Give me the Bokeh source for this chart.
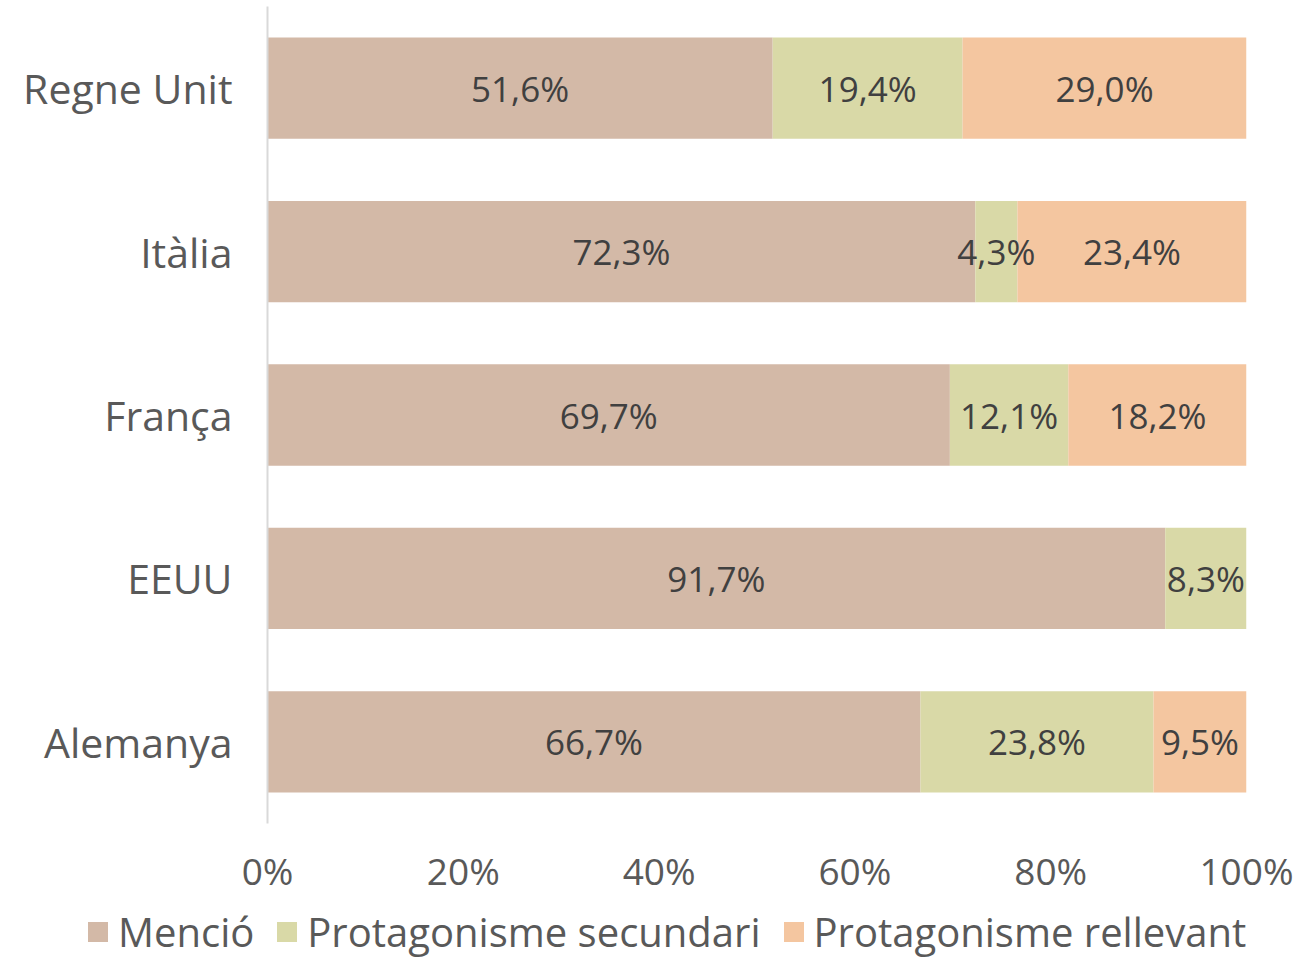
from bokeh.plotting import figure
from bokeh.models import FactorRange, Range1d, Legend, LegendItem, FixedTicker, ColumnDataSource
from bokeh.core.properties import value
from bokeh.embed import file_html
from bokeh.resources import INLINE

countries = ["Regne Unit", "Itàlia", "França", "EEUU", "Alemanya"]
mencio = [51.6, 72.3, 69.7, 91.7, 66.7]
secundari = [19.4, 4.3, 12.1, 8.3, 23.8]
rellevant = [29.0, 23.4, 18.2, 0.0, 9.5]
series_names = ["Menció", "Protagonisme secundari", "Protagonisme rellevant"]
colors = ["#D3B9A7", "#D9D9A7", "#F4C6A0"]
x_ticks = [0, 20, 40, 60, 80, 100]
x_tick_labels = ["0%", "20%", "40%", "60%", "80%", "100%"]

FONT = "Open Sans"

p = figure(width=1293, height=900, output_backend="svg", toolbar_location=None,
           y_range=FactorRange(factors=list(reversed(countries))),
           x_range=Range1d(0, 100), min_border_left=267, min_border_right=47,
           min_border_top=6, min_border_bottom=77)
p.outline_line_color = None
p.grid.grid_line_color = None
p.background_fill_color = "white"
p.border_fill_color = "white"

src = ColumnDataSource(dict(country=countries, m=mencio, s=secundari, r=rellevant))
renderers = p.hbar_stack(["m", "s", "r"], y="country", height=0.62, color=colors,
                         source=src, line_color=None)

stacks = [mencio, secundari, rellevant]
xs, ys, labels = [], [], []
for i, c in enumerate(countries):
    left = 0.0
    for vals in stacks:
        v = vals[i]
        if v > 0:
            xs.append(left + v / 2)
            ys.append(c)
            labels.append(("%.1f" % v).replace(".", ",") + "%")
        left += v
p.text(x=xs, y=ys, text=labels, text_align="center", text_baseline="middle",
       text_font=value(FONT), text_font_size="35px", text_color="#404040")

p.xaxis.ticker = FixedTicker(ticks=x_ticks)
p.xaxis.major_label_overrides = {t: l for t, l in zip(x_ticks, x_tick_labels)}
p.xaxis.axis_line_color = None
p.xaxis.major_tick_line_color = None
p.xaxis.minor_tick_line_color = None
p.xaxis.major_label_text_font = FONT
p.xaxis.major_label_text_font_size = "37px"
p.xaxis.major_label_text_color = "#595959"
p.xaxis.major_label_standoff = 15

p.yaxis.axis_line_color = "#D9D9D9"
p.yaxis.axis_line_width = 2
p.yaxis.major_tick_line_color = None
p.yaxis.minor_tick_line_color = None
p.yaxis.major_label_text_font = FONT
p.yaxis.major_label_text_font_size = "41px"
p.yaxis.major_label_text_color = "#595959"
p.yaxis.major_label_standoff = 29

# legend strip below the chart (separate root, so no frame alignment)
lg = figure(width=1293, height=59, output_backend="svg", toolbar_location=None,
            x_range=Range1d(0, 1), y_range=Range1d(0, 1),
            min_border_left=0, min_border_right=0, min_border_top=0, min_border_bottom=0)
lg.axis.visible = False
lg.grid.grid_line_color = None
lg.outline_line_color = None
lg.background_fill_color = "white"
dummy = [lg.hbar(y=[-10], left=[0], right=[1], height=0.5, color=c, line_color=None) for c in colors]
legend = Legend(items=[LegendItem(label=n, renderers=[r]) for n, r in zip(series_names, dummy)],
                orientation="horizontal", location=(85, 0),
                glyph_width=25, glyph_height=25, label_standoff=8, spacing=20,
                label_text_font=FONT, label_text_font_size="40px", label_text_color="#595959",
                border_line_color=None, background_fill_alpha=0, padding=0, margin=0)
lg.add_layout(legend, "center")

open("out.html", "w").write(file_html([p, lg], INLINE))
